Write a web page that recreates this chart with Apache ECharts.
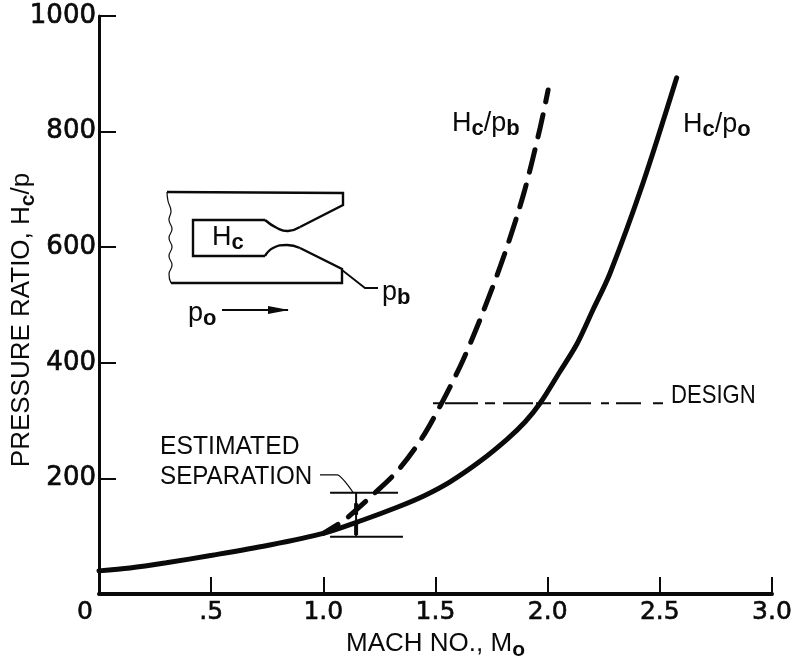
<!DOCTYPE html>
<html><head><meta charset="utf-8">
<style>html,body{margin:0;padding:0;background:#fff}#c{width:798px;height:661px}</style>
<script src="https://cdn.jsdelivr.net/npm/echarts@6/dist/echarts.min.js"></script>
</head><body><div id="c"></div>
<script>
const xTickLabels = {0:'0',0.5:'.5',1:'1.0',1.5:'1.5',2:'2.0',2.5:'2.5',3:'3.0'};
const machO  = [0,0.138,0.3,0.504,0.75,1.0,1.177,1.329,1.45,1.565,1.7,1.82,1.9,1.966,2.05,2.131,2.2,2.278,2.425,2.575];
const ratioO = [40,45,54,67,84,105,128,150,170,194,230,268,298,330,382,433,490,555,711,893];
const machB  = [1.0,1.083,1.11,1.23,1.333,1.44,1.534,1.623,1.712,1.806,1.895,1.966,2.002];
const ratioB = [105,125,133,175,214,270,335,405,488,586,695,806,872];
const designX = [1.489,2.514];
const designY = [330,330];
const sepUpperX = [1.03,1.333];
const sepUpperY = [175,175];
const sepLowerX = [1.03,1.355];
const sepLowerY = [99,99];
const sepBarX = [1.146,1.146];
const sepBarY = [175,99];
const sepHeadUpperY = [157,137];
const sepHeadLowerY = [123,102];
const sepLeadX = [0.985,1.061,1.132];
const sepLeadY = [206,206,176];
const zip=(a,b)=>a.map((v,i)=>[v,b[i]]);
const FONT='"Liberation Sans",sans-serif';
const NUM='"DejaVu Sans",sans-serif';
const BLACK='#0a0a0a';
const chart=echarts.init(document.getElementById('c'),null,{renderer:'canvas'});
const thin=(data,w,extra)=>Object.assign({type:'line',data,symbol:'none',silent:true,animation:false,
  lineStyle:{color:BLACK,width:w}},extra||{});
const rich={
  b:{fontFamily:FONT,fontSize:27,fill:BLACK,lineHeight:30,verticalAlign:'top'},
  s:{fontFamily:FONT,fontSize:22,fontWeight:'bold',fill:BLACK,verticalAlign:'bottom',padding:[10,0,0,0],lineHeight:30}
};
const axisRich={
  b:{fontFamily:FONT,fontSize:26,color:BLACK,lineHeight:30,verticalAlign:'top'},
  s:{fontFamily:FONT,fontSize:21,fontWeight:'bold',color:BLACK,verticalAlign:'bottom',padding:[10,0,0,0],lineHeight:30}
};
const sub=(main,subT)=>`{b|${main}}{s|${subT}}`;
function txt(x,y,text,sx){return {type:'text',left:x,top:y,silent:true,scaleX:sx||1,style:{text,fontFamily:FONT,fontSize:26,fill:BLACK}};}
function rtxt(x,y,text){return {type:'text',left:x,top:y,silent:true,style:{text,rich,fontFamily:FONT,fontSize:27,fill:BLACK}};}
function poly(pts,w,smooth){return {type:'polyline',silent:true,shape:{points:pts,smooth:smooth||0},style:{fill:null,stroke:BLACK,lineWidth:w||2.4}};}
chart.setOption({
  backgroundColor:'#fff',animation:false,
  grid:{left:99,right:26,top:16,bottom:67,containLabel:false,outerBoundsMode:'none'},
  xAxis:{type:'value',min:0,max:3,interval:0.5,
    name:'{b|MACH NO., M}{s|o}',nameLocation:'middle',nameGap:31,
    nameTextStyle:{rich:axisRich},
    axisLine:{lineStyle:{color:BLACK,width:4}},
    axisTick:{inside:true,length:17,lineStyle:{color:BLACK,width:2}},
    splitLine:{show:false},
    axisLabel:{margin:6,showMaxLabel:true,showMinLabel:true,color:BLACK,fontFamily:NUM,fontSize:25,
      textBorderColor:BLACK,textBorderWidth:0.6,
      formatter:v=>v===0?'{z|0}':xTickLabels[v],
      rich:{z:{fontFamily:NUM,fontSize:25,color:BLACK,textBorderColor:BLACK,textBorderWidth:0.6,padding:[0,28,0,0]}}}},
  yAxis:{type:'value',min:0,max:1000,interval:200,
    name:'{b|PRESSURE RATIO, H}{s|c}{b|/p}',nameLocation:'middle',nameGap:60,nameRotate:90,nameMoveOverlap:false,
    nameTextStyle:{padding:[0,30,0,0],rich:axisRich},
    axisLine:{lineStyle:{color:BLACK,width:3}},
    axisTick:{inside:true,length:17,lineStyle:{color:BLACK,width:2}},
    splitLine:{show:false},
    axisLabel:{margin:3,color:BLACK,fontFamily:NUM,fontSize:26,textBorderColor:BLACK,textBorderWidth:0.7,
      formatter:v=>v===0?'':String(v)}},
  series:[
    thin(zip(machO,ratioO),5,{name:'Hc/po',smooth:0.3,lineStyle:{color:BLACK,width:5,cap:'round'}}),
    thin(zip(machB,ratioB),5,{name:'Hc/pb',smooth:0.3,lineStyle:{color:BLACK,width:5,cap:'round',type:[23,13],dashOffset:6}}),
    thin(zip(designX,designY),2,{name:'Design',lineStyle:{color:BLACK,width:2,type:[7,5,33,7,10,8,30,3,15,8,32,10,8,7,25,12,10,400]}}),
    thin(zip(sepUpperX,sepUpperY),2,{name:'Separation upper'}),
    thin(zip(sepLowerX,sepLowerY),2,{name:'Separation lower'}),
    thin(zip(sepBarX,sepBarY),2,{name:'Separation bar'}),
    thin(zip(sepBarX,sepHeadUpperY),4,{name:'Separation head upper'}),
    thin(zip(sepBarX,sepHeadLowerY),4,{name:'Separation head lower'}),
    thin(zip(sepLeadX,sepLeadY),1.2,{name:'Separation leader',smooth:0.2})
  ],
  graphic:[
    rtxt(452,108,sub('H','c')+'{b|/p}'+'{s|b}'),
    rtxt(683,109,sub('H','c')+'{b|/p}'+'{s|o}'),
    txt(671,383,'DESIGN',0.85),
    txt(160,434,'ESTIMATED',0.95),
    txt(160,464,'SEPARATION',0.93),
    rtxt(212,222,sub('H','c')),
    rtxt(382,277,'{b|p}{s|b}'),
    rtxt(188,298,'{b|p}{s|o}'),
    poly([[167,192],[343,193],[343,205],[300,227]]),
    poly([[300,227],[288,231],[277,228],[265,220]],2.4,0.5),
    poly([[265,220],[193,220],[193,256],[265,256]]),
    poly([[265,256],[273,248],[287,245],[300,248]],2.4,0.5),
    poly([[300,248],[342,269],[342,283],[171,283]]),
    poly([[171,283],[169,274],[172,265],[169,256],[172,247],[169,238],[172,229],[169,220],[171,211],[168,201],[167,192]],1.2,0.5),
    poly([[342,270],[365,288],[378,288]],1.8),
    poly([[222,310],[288,310]],2),
    {type:'polygon',silent:true,shape:{points:[[268,306],[289,310],[268,314]]},style:{fill:BLACK}}
  ]
});
</script></body></html>
